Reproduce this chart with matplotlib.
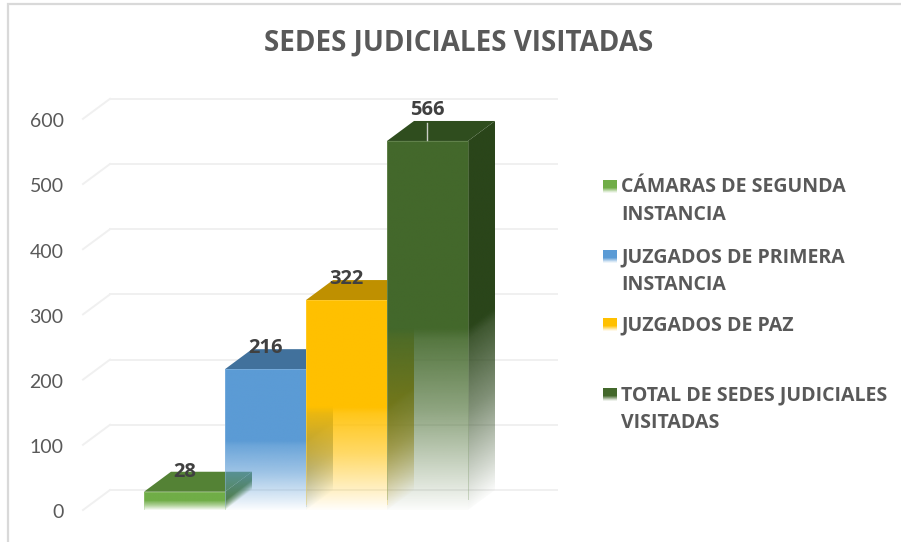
import numpy as np
import matplotlib
matplotlib.use("Agg")
import matplotlib.pyplot as plt
from matplotlib.colors import to_rgb
from matplotlib.patches import Polygon
from matplotlib.transforms import ScaledTranslation

plt.rcParams['font.family'] = ['Lato', 'DejaVu Sans']
BOLD = ['Open Sans', 'DejaVu Sans']

title = "SEDES JUDICIALES VISITADAS"
values = [28, 216, 322, 566]
legend_labels = ["CÁMARAS DE SEGUNDA\nINSTANCIA", "JUZGADOS DE PRIMERA\nINSTANCIA",
                 "JUZGADOS DE PAZ", "TOTAL DE SEDES JUDICIALES\nVISITADAS"]
yticks = [0, 100, 200, 300, 400, 500, 600]

front_colors = ["#70AD47", "#5B9BD5", "#FFC000", "#43682B"]
top_colors = ["#548235", "#41719C", "#BF9000", "#2F4D1E"]
side_colors = ["#4F7A32", "#41719C", "#BF9000", "#2A451A"]
edge_colors = ["#A9CE8E", "#9DC3E6", "#FFD966", "#8FAA7C"]

W, H = 901, 542
TEXT = "#595959"
GRID = "#F0F0F0"

# 3d offset of the chart, in data units
dx = 27 / 81
dy = 20 / 0.652

# how the bars fade out to the floor (fraction of bar height -> alpha)
fade_at = [0.0, 0.08, 0.27, 0.46, 0.49, 1.0]
fade_alpha = [0.02, 0.2, 0.6, 0.9, 1.0, 1.0]


def face(ax, x0, x1, h, color, skew):
    # a bar face, floor to height h; a fading image clipped to the face outline
    ny, nx = 500, 60
    xs = np.linspace(0, 1, nx)
    ys = np.linspace(h + skew, 0, ny)
    tt, vv = np.meshgrid(xs, ys)
    frac = np.clip((vv - skew * tt) / h, 0, 1)
    img = np.ones((ny, nx, 4))
    img[..., :3] = to_rgb(color)
    img[..., 3] = np.interp(frac, fade_at, fade_alpha)
    im = ax.imshow(img, extent=(x0, x1, 0, h + skew), aspect="auto", origin="upper",
                   interpolation="bilinear", zorder=3, clip_on=True)
    clip = Polygon([(x0, 0), (x1, skew), (x1, h + skew), (x0, h)], closed=True,
                   transform=ax.transData, fill=False, lw=0)
    ax.add_patch(clip)
    im.set_clip_path(clip)


fig = plt.figure(figsize=(W / 100, H / 100), dpi=100)

# pixel overlay for the frame, title and legend
over = fig.add_axes([0, 0, 1, 1])
over.axis("off")

over.plot([8, 8, W], [H, 4, 4], color="#D9D9D9", lw=1.6, solid_joinstyle="miter")
over.text(458.5, 43.5, title, color=TEXT, fontsize=20, fontweight="bold", family=BOLD,
          ha="center", va="center")

legend_y = [186, 256, 324, 394]
for label, y, col in zip(legend_labels, legend_y, front_colors):
    sw = np.ones((13, 1, 4))
    sw[:, 0, :3] = to_rgb(col)
    sw[:, 0, 3] = [1, 1, 1, 1, 1, 1, 1, 1, 0.85, 0.65, 0.45, 0.25, 0.1]
    over.imshow(sw, extent=(603, 617, y + 7, y - 6), aspect="auto", zorder=2)
    lines = label.split("\n")
    for k, line in enumerate(lines):
        over.text(621, y + 1 + k * 27.5, line, color=TEXT, fontsize=14, fontweight="bold",
                  family=BOLD, ha="left", va="center")
over.set_xlim(0, W)
over.set_ylim(H, 0)

# main axes: left/right = ends of the gridlines, bottom = floor front, top = back of 600
ax = fig.add_axes([83 / W, (H - 510) / H, (557 - 83) / W, (510 - 98) / H])
ax.patch.set_alpha(0)
xl, xr = (83 - 184.5) / 81, (557 - 184.5) / 81
yb, yt = 0, (510 - 98) / 0.652
for s in ax.spines.values():
    s.set_visible(False)
ax.set_xticks([])
ax.set_yticks(yticks)
ax.tick_params(axis="y", length=0, pad=14, labelsize=14, labelcolor=TEXT)
for lab in ax.get_yticklabels():
    lab.set_transform(lab.get_transform() + ScaledTranslation(0, -1.5 / 100, fig.dpi_scale_trans))

# floor lines and back wall lines
for t in yticks:
    ax.plot([xl, xl + dx], [t, t + dy], color=GRID, lw=1.4, zorder=1, clip_on=False)
    ax.plot([xl + dx, xr], [t + dy, t + dy], color=GRID, lw=1.4, zorder=1, clip_on=False)

for i, v in enumerate(values):
    x0, x1 = i - 0.5, i + 0.5
    face(ax, x1, x1 + dx, v, side_colors[i], dy)
    ax.fill([x0, x1, x1 + dx, x0 + dx], [v, v, v + dy, v + dy], color=top_colors[i],
            lw=0, zorder=3, clip_on=False)
    face(ax, x0, x1, v, front_colors[i], 0)
    # thin pale edges of the bar
    ax.plot([x0, x0, x1, x1], [v * 0.03, v, v, v * 0.03], color=edge_colors[i], lw=0.7,
            alpha=0.4, zorder=3)

# white-ish leader line of the last label
ax.plot([3, 3], [values[3] + 1, values[3] + dy - 3], color="#C9CDC5", lw=1, zorder=4, clip_on=False)

# data labels above the top faces
label_off = [31, 32, 32, 47]
for i, v in enumerate(values):
    ax.text(i, v + label_off[i], str(v), color="#404040", fontsize=14.5, fontweight="bold",
            family=BOLD, ha="center", va="center", zorder=5, clip_on=False)

ax.set_xlim(xl, xr)
ax.set_ylim(yb, yt)

fig.savefig("out.png", dpi=100)
